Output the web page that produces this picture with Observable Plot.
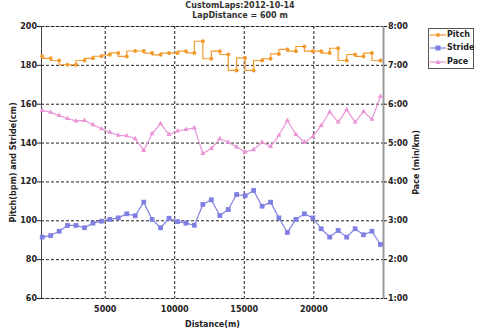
<!DOCTYPE html>
<html><head><meta charset="utf-8">
<script src="https://cdn.jsdelivr.net/npm/d3@7"></script>
<script src="https://cdn.jsdelivr.net/npm/@observablehq/plot@0.6"></script>
<style>
body{margin:0;background:#fff;font-family:"DejaVu Sans",Verdana,sans-serif;}
#wrap{position:relative;width:480px;height:329px;overflow:hidden;background:#fff}
#title{height:21px;text-align:center;font-weight:bold;font-size:8px;line-height:10px;color:#333;padding-top:1px;box-sizing:border-box}
#legend{position:absolute;left:428px;top:28px;width:46px;height:41px;border:1px solid #555;box-sizing:border-box;background:#fff}
.row{position:absolute;left:1px;height:10px;line-height:10px;font-size:8px;font-weight:bold;color:#222;white-space:nowrap}
.row svg{vertical-align:top;margin-right:1px}
</style></head>
<body>
<div id="wrap">
<div id="title">CustomLaps:2012-10-14<br>LapDistance = 600 m</div>
<div id="chart"></div>
<div id="legend"></div>
</div>
<script>
// Lap end distances (m)
const distance = [470,1080,1690,2290,2900,3510,4120,4730,5330,5940,6550,7160,7770,8370,8980,9590,10200,10810,11410,12020,12630,13240,13850,14450,15060,15670,16280,16890,17490,18100,18710,19320,19930,20530,21140,21750,22360,22970,23570,24180,24790];
// Pitch (bpm)
const pitch = [184.7,183.6,182.5,180.3,180.3,182.5,183.6,184.7,185.4,186.4,184.6,187.4,187.4,186.3,185.4,186.3,186.3,187.3,186.4,192.4,183.4,187.3,185.6,177.4,183.8,177.4,182.5,183.4,185.9,188.2,187.3,189.7,187.3,187.3,186.3,188.8,182.5,185.6,184.6,186.3,182.5];
// Stride (cm)
const stride = [91.6,92.4,94.6,97.6,97.6,96.4,98.8,99.8,100.7,101.5,103.6,102.6,109.6,100.7,96.4,101.3,99.6,98.8,97.7,108.4,110.8,102.7,105.8,113.5,112.9,115.6,107.5,109.6,101.5,94.0,100.7,103.6,101.5,95.9,91.6,95.0,91.6,95.9,92.8,94.6,87.8];
// Pace (min/km, decimal minutes)
const pace = [5.84,5.79,5.71,5.63,5.57,5.58,5.47,5.37,5.28,5.20,5.19,5.11,4.81,5.24,5.50,5.22,5.31,5.35,5.39,4.73,4.86,5.11,5.02,4.90,4.77,4.83,5.02,4.91,5.20,5.58,5.22,5.02,5.17,5.45,5.80,5.54,5.86,5.54,5.81,5.61,6.20];

const seriesNames = ["Pitch","Stride","Pace"];
const colors = ["#F29A2E","#8080E4","#EA94D6"];
const xTicks = [5000,10000,15000,20000];
const yTicks = [60,80,100,120,140,160,180,200];
const paceTickLabels = ["1:00","2:00","3:00","4:00","5:00","6:00","7:00","8:00"];
const xDomain = [420, 25010];
const yDomain = [60, 200];

// right axis: pace minutes mapped onto left scale (1:00 -> 60, 8:00 -> 200)
const paceToLeft = p => yDomain[0] + (p - 1) * (yDomain[1] - yDomain[0]) / (paceTickLabels.length - 1);

const data = distance.map((d, i) => ({d, pitch: pitch[i], stride: stride[i], pace: paceToLeft(pace[i])}));

const chart = Plot.plot({
  width: 480, height: 308,
  marginLeft: 41, marginRight: 97, marginTop: 5, marginBottom: 31,
  style: {fontFamily: "'DejaVu Sans', Verdana, sans-serif", fontSize: "8px", fontWeight: "bold", color: "#222", background: "#fff"},
  x: {domain: xDomain},
  y: {domain: yDomain},
  marks: [
    Plot.frame({stroke: "#aaa"}),
    Plot.gridX(xTicks, {stroke: "#222", strokeOpacity: 1, strokeDasharray: "3,2"}),
    Plot.gridY(yTicks, {stroke: "#222", strokeOpacity: 1, strokeDasharray: "3,2"}),
    Plot.ruleX([xDomain[0]], {stroke: "#444", strokeWidth: 1}),
    Plot.ruleX([xDomain[1]], {stroke: "#999", strokeWidth: 2}),
    Plot.line(data, {x: "d", y: "pace", stroke: colors[2], strokeWidth: 1.2}),
    Plot.dot(data, {x: "d", y: "pace", symbol: "triangle", r: 1.9, fill: colors[2]}),
    Plot.line(data, {x: "d", y: "stride", stroke: colors[1], strokeWidth: 1.2}),
    Plot.dot(data, {x: "d", y: "stride", symbol: "square", r: 2.7, fill: colors[1]}),
    Plot.line(data, {x: "d", y: "pitch", curve: "step-before", stroke: colors[0], strokeWidth: 1.2}),
    Plot.dot(data, {x: "d", y: "pitch", r: 2, fill: colors[0]}),
    Plot.axisX(xTicks, {tickSize: 0, tickPadding: 8, tickFormat: d3.format("d"), label: "Distance(m)", labelAnchor: "center", labelOffset: 28, labelArrow: false}),
    Plot.axisY(yTicks, {anchor: "left", tickSize: 4, tickPadding: 0.5, label: "Pitch(bpm) and Stride(cm)", labelAnchor: "center", labelOffset: 31, labelArrow: false}),
    Plot.axisY(yTicks, {anchor: "right", tickSize: 3, tickPadding: 1.5, tickFormat: v => paceTickLabels[yTicks.indexOf(v)], label: "Pace (min/km)", labelAnchor: "center", labelOffset: 35, labelArrow: false})
  ]
});
document.getElementById("chart").appendChild(chart);

// legend
const legend = document.getElementById("legend");
const swatch = i => {
  const c = colors[i];
  let m;
  if (i === 0) m = `<circle cx="8" cy="5" r="2" fill="${c}"/>`;
  else if (i === 1) m = `<rect x="5.5" y="2.5" width="5" height="5" fill="${c}"/>`;
  else m = `<path d="M8,2.5L10.5,7L5.5,7Z" fill="${c}"/>`;
  return `<svg width="16" height="10"><line x1="0" x2="16" y1="5" y2="5" stroke="${c}" stroke-width="1.2"/>${m}</svg>`;
};
seriesNames.forEach((name, i) => {
  const row = document.createElement("div");
  row.className = "row";
  row.style.top = (1 + 13.3 * i) + "px";
  row.innerHTML = swatch(i) + name;
  legend.appendChild(row);
});
</script>
</body></html>
